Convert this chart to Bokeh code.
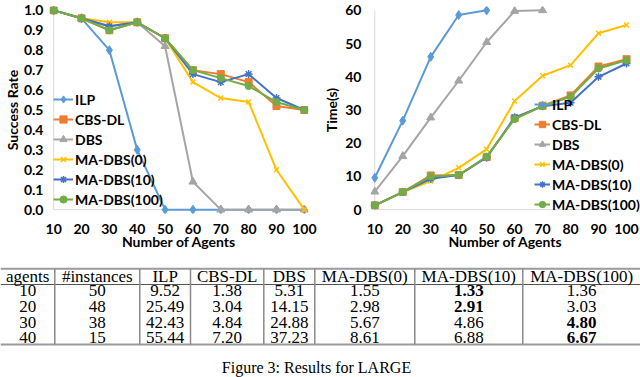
import numpy as np
from bokeh.plotting import figure
from bokeh.models import Range1d, FixedTicker, PrintfTickFormatter
from bokeh.layouts import column, row
from bokeh.embed import file_html
from bokeh.resources import INLINE
from bokeh.core.properties import value

# ---------------- data ----------------
agents = [10, 20, 30, 40, 50, 60, 70, 80, 90, 100]
series_names = ["ILP", "CBS-DL", "DBS", "MA-DBS(0)", "MA-DBS(10)", "MA-DBS(100)"]

succ_ilp = [1.0, 0.96, 0.80, 0.30, 0.0, 0.0, 0.0, 0.0, 0.0, 0.0]
succ_cbsdl = [1.0, 0.96, 0.90, 0.94, 0.86, 0.70, 0.68, 0.64, 0.52, 0.50]
succ_dbs = [1.0, 0.96, 0.92, 0.94, 0.82, 0.14, 0.0, 0.0, 0.0, 0.0]
succ_ma0 = [1.0, 0.96, 0.94, 0.94, 0.86, 0.64, 0.56, 0.54, 0.20, 0.0]
succ_ma10 = [1.0, 0.96, 0.92, 0.94, 0.86, 0.68, 0.64, 0.68, 0.56, 0.50]
succ_ma100 = [1.0, 0.96, 0.90, 0.94, 0.86, 0.70, 0.66, 0.62, 0.54, 0.50]

time_ilp = [9.6, 26.8, 46.0, 58.6, 60.0]
time_cbsdl = [1.3, 5.3, 10.3, 10.4, 15.8, 27.5, 31.3, 34.4, 43.1, 45.3]
time_dbs = [5.4, 16.1, 27.7, 38.8, 50.4, 59.8, 60.0]
time_ma0 = [1.3, 5.3, 8.6, 12.6, 18.2, 32.7, 40.3, 43.5, 53.1, 55.6]
time_ma10 = [1.3, 5.3, 9.3, 10.4, 15.7, 27.8, 31.1, 32.2, 40.0, 44.0]
time_ma100 = [1.3, 5.3, 10.0, 10.4, 16.0, 27.3, 31.2, 34.0, 42.5, 45.0]

rate_ticks = [0.0, 0.1, 0.2, 0.3, 0.4, 0.5, 0.6, 0.7, 0.8, 0.9, 1.0]
time_ticks = [0, 10, 20, 30, 40, 50, 60]

table_header = ["agents", "#instances", "ILP", "CBS-DL", "DBS",
                "MA-DBS(0)", "MA-DBS(10)", "MA-DBS(100)"]
tab_agents = [10, 20, 30, 40]
tab_instances = [50, 48, 38, 15]
tab_ilp = [9.52, 25.49, 42.43, 55.44]
tab_cbsdl = [1.38, 3.04, 4.84, 7.20]
tab_dbs = [5.31, 14.15, 24.88, 37.23]
tab_ma0 = [1.55, 2.98, 5.67, 8.61]
tab_ma10 = [1.33, 2.91, 4.86, 6.88]
tab_ma100 = [1.36, 3.03, 4.80, 6.67]

caption = "Figure 3: Results for LARGE"

# ---------------- styles ----------------
COLORS = ["#5B9BD5", "#ED7D31", "#A5A5A5", "#FFC000", "#4472C4", "#70AD47"]
MARKERS = ["diamond", "square", "triangle", "x", "asterisk", "circle"]
MSIZES = [9, 7, 8, 7, 8, 7]
FONT = "Lato"
AXIS_GRAY = "#D9D9D9"
CHART_H = 255


def make_chart(width, ylist, yrange, xpad_l, xpad_r, ticks, ylabel, fmt, border_left,
               border_right, lab_standoff, title_standoff, legend_loc, glyph_w):
    p = figure(width=width, height=CHART_H, output_backend="svg", toolbar_location=None,
               x_range=Range1d(agents[0] - xpad_l, agents[-1] + xpad_r), y_range=yrange,
               min_border_left=border_left, min_border_right=border_right,
               min_border_top=6, min_border_bottom=42)
    p.outline_line_color = None
    p.xgrid.visible = False
    p.ygrid.visible = False
    p.background_fill_color = "white"
    # axis lines drawn through the data scales
    p.segment(x0=[agents[0], agents[0]], y0=[ticks[0], ticks[0]],
              x1=[agents[-1], agents[0]], y1=[ticks[0], ticks[-1]],
              line_color=AXIS_GRAY, line_width=1)
    for name, ys, c, m, s in zip(series_names, ylist, COLORS, MARKERS, MSIZES):
        xs = agents[:len(ys)]
        p.line(xs, ys, line_color=c, line_width=2, legend_label=name)
        if m in ("x", "asterisk"):
            p.scatter(xs, ys, marker=m, size=s, line_color=c, line_width=1.5, legend_label=name)
        else:
            p.scatter(xs, ys, marker=m, size=s, line_color=c, fill_color=c, legend_label=name)
    for ax in (p.xaxis, p.yaxis):
        ax.axis_line_color = None
        ax.major_tick_line_color = None
        ax.minor_tick_line_color = None
        ax.major_tick_out = 0
        ax.major_tick_in = 0
        ax.minor_tick_out = 0
        ax.minor_tick_in = 0
        ax.major_label_text_font = FONT
        ax.major_label_text_font_style = "bold"
        ax.major_label_text_font_size = "14px"
        ax.major_label_text_color = "black"
        ax.axis_label_text_font = FONT
        ax.axis_label_text_font_style = "bold"
        ax.axis_label_text_font_size = "14px"
        ax.axis_label_text_color = "black"
    p.xaxis.ticker = FixedTicker(ticks=agents)
    p.xaxis.axis_label = "Number of Agents"
    p.xaxis.major_label_standoff = 10
    p.xaxis.axis_label_standoff = -4
    p.yaxis.ticker = FixedTicker(ticks=ticks)
    if fmt:
        p.yaxis.formatter = PrintfTickFormatter(format=fmt)
    p.yaxis.axis_label = ylabel
    p.yaxis.major_label_standoff = lab_standoff
    p.yaxis.axis_label_standoff = title_standoff
    lg = p.legend[0]
    lg.location = legend_loc
    lg.border_line_color = None
    lg.background_fill_alpha = 0
    lg.padding = 0
    lg.margin = 0
    lg.spacing = 2
    lg.label_height = 18
    lg.glyph_height = 18
    lg.glyph_width = glyph_w
    lg.label_standoff = 2
    lg.label_text_font = FONT
    lg.label_text_font_style = "bold"
    lg.label_text_font_size = "14px"
    lg.label_text_color = "black"
    return p


p1 = make_chart(320, [succ_ilp, succ_cbsdl, succ_dbs, succ_ma0, succ_ma10, succ_ma100],
                Range1d(-0.0193, 1.0193), 1.5, 1.5, rate_ticks, "Success Rate", "%.1f",
                42, 12, 6, 0, (4, 5), 20)
p2 = make_chart(320, [time_ilp, time_cbsdl, time_dbs, time_ma0, time_ma10, time_ma100],
                Range1d(-1.16, 61.16), 1.53, 5.0, time_ticks, "Time(s)", None,
                47, 0, 9, 2, (164, 0), 16)

# ---------------- table ----------------
PAGE_L, PAGE_R = 0, 640
PAGE_T, PAGE_B = 255, 377
TOP_Y, HEAD_Y, BOT_Y = 268.3, 284.0, 344.0
HEAD_BASE, ROW_BASE, ROW_STEP = 276.3, 290.0, 15.8
CAP_BASE = 366.5
col_w = [54.3, 85, 50.7, 73.3, 51, 100, 108, 117.7]
edges = PAGE_L + np.concatenate([[0], np.cumsum(col_w)])
centers = (edges[:-1] + edges[1:]) / 2

p3 = figure(width=PAGE_R - PAGE_L, height=PAGE_B - PAGE_T, output_backend="svg",
            toolbar_location=None,
            x_range=Range1d(PAGE_L, PAGE_R), y_range=Range1d(PAGE_B, PAGE_T),
            x_axis_type=None, y_axis_type=None,
            min_border=0, min_border_left=0, min_border_right=0,
            min_border_top=0, min_border_bottom=0)
p3.outline_line_color = None
p3.xgrid.visible = False
p3.ygrid.visible = False

p3.segment(x0=[PAGE_L, PAGE_L], y0=[TOP_Y, BOT_Y], x1=[PAGE_R, PAGE_R], y1=[TOP_Y, BOT_Y],
           line_color="#9A9A9A", line_width=2)
p3.segment(x0=[PAGE_L], y0=[HEAD_Y], x1=[PAGE_R], y1=[HEAD_Y], line_color="#555555", line_width=1)
inner = list(edges[1:-1])
p3.segment(x0=inner, y0=[TOP_Y] * len(inner), x1=inner, y1=[BOT_Y] * len(inner),
           line_color="#8A8A8A", line_width=1.5)

TFONT = value("Liberation Serif")
TSIZE = "17px"
p3.text(x=list(centers), y=[HEAD_BASE] * len(table_header), text=table_header,
        text_align="center", text_baseline="alphabetic", text_font=TFONT,
        text_font_size=TSIZE, text_color="black")

method_cols = [tab_ilp, tab_cbsdl, tab_dbs, tab_ma0, tab_ma10, tab_ma100]
nx, ny, nt, bx, by, bt = [], [], [], [], [], []
for i in range(len(tab_agents)):
    yb = ROW_BASE + i * ROW_STEP
    nx += [centers[0], centers[1]]
    ny += [yb, yb]
    nt += [str(tab_agents[i]), str(tab_instances[i])]
    best = min(col[i] for col in method_cols)
    for j, col in enumerate(method_cols):
        if col[i] == best:
            bx.append(centers[2 + j]); by.append(yb); bt.append("%.2f" % col[i])
        else:
            nx.append(centers[2 + j]); ny.append(yb); nt.append("%.2f" % col[i])

p3.text(x=nx, y=ny, text=nt, text_align="center", text_baseline="alphabetic",
        text_font=TFONT, text_font_size=TSIZE, text_color="black")
p3.text(x=bx, y=by, text=bt, text_align="center", text_baseline="alphabetic",
        text_font=TFONT, text_font_size=TSIZE, text_font_style="bold", text_color="black")

p3.text(x=[316], y=[CAP_BASE], text=[caption], text_align="center",
        text_baseline="alphabetic", text_font=TFONT, text_font_size="16px", text_color="black")

layout = column(row(p1, p2), p3)
open("out.html", "w").write(file_html(layout, INLINE))
